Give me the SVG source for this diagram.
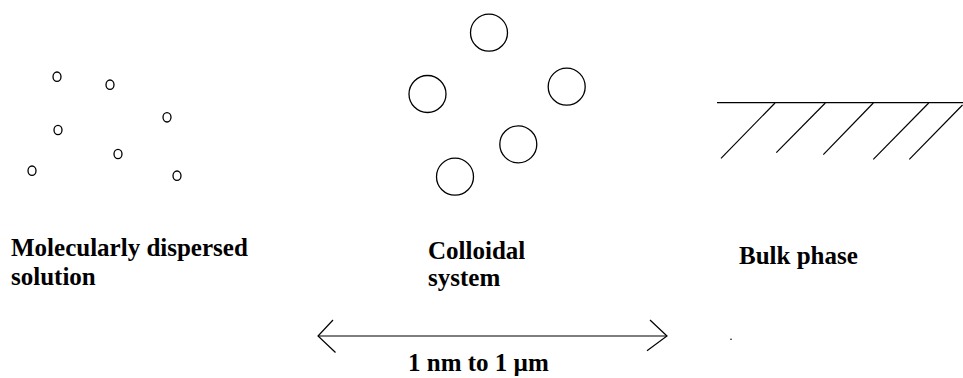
<svg xmlns="http://www.w3.org/2000/svg" width="963" height="378" viewBox="0 0 963 378">
<style>
.c{fill:none;stroke:#000;stroke-width:1.3}
.l{stroke:#000;stroke-width:1.2;fill:none}
.t{font-family:"Liberation Serif","Times New Roman",serif;font-weight:bold;font-size:25px;fill:#000}
</style>
<rect width="963" height="378" fill="#fff"/>
<g id="molecular">
<ellipse class="c" cx="57" cy="76.7" rx="4" ry="4.7"/>
<ellipse class="c" cx="110" cy="84.7" rx="4" ry="4.7"/>
<ellipse class="c" cx="167" cy="117.3" rx="4" ry="4.7"/>
<ellipse class="c" cx="58" cy="130" rx="4" ry="4.7"/>
<ellipse class="c" cx="118" cy="154" rx="4" ry="4.7"/>
<ellipse class="c" cx="32" cy="170.7" rx="4" ry="4.7"/>
<ellipse class="c" cx="177" cy="175.7" rx="4" ry="4.7"/>
<text class="t" x="11" y="255.5">Molecularly dispersed</text>
<text class="t" x="11" y="285">solution</text>
</g>
<g id="colloidal">
<circle class="c" cx="489" cy="32.7" r="18.5"/>
<circle class="c" cx="427.5" cy="94" r="18.5"/>
<circle class="c" cx="566.7" cy="86.7" r="18.5"/>
<circle class="c" cx="518.3" cy="144.3" r="18.5"/>
<circle class="c" cx="455" cy="176.7" r="18.5"/>
<text class="t" x="428" y="259">Colloidal</text>
<text class="t" x="428" y="286">system</text>
</g>
<g id="bulk">
<line class="l" x1="717" y1="102.7" x2="963" y2="102.7" stroke-width="2"/>
<line class="l" x1="775" y1="103" x2="721" y2="158.3"/>
<line class="l" x1="825.3" y1="103" x2="776.3" y2="152.7"/>
<line class="l" x1="873.3" y1="103" x2="823.3" y2="154.7"/>
<line class="l" x1="928.7" y1="103" x2="873.3" y2="159.3"/>
<line class="l" x1="962.5" y1="105" x2="909.3" y2="159.3"/>
<text class="t" x="739" y="263.5">Bulk phase</text>
<circle cx="731" cy="339.3" r="0.8" fill="#000"/>
</g>
<g id="connectors">
<line class="l" x1="318" y1="336" x2="667" y2="336" stroke-width="1.4"/>
<polyline class="l" points="333,320 318,336 335.5,352.5"/>
<polyline class="l" points="650,320 667,336 647,350.7"/>
<text class="t" x="408" y="371">1 nm to 1 µm</text>
</g>
</svg>
